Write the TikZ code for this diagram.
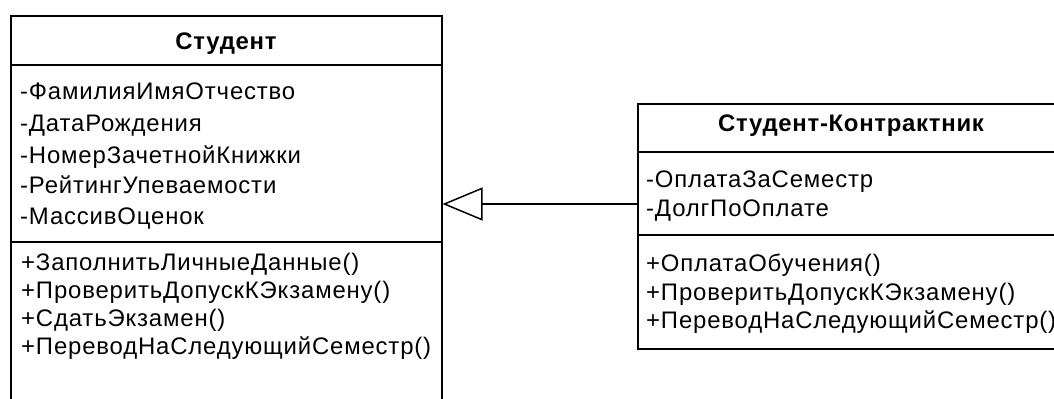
\documentclass[tikz,border=0pt]{standalone}
\usepackage{fontspec}
\setmainfont{Liberation Sans}
\newfontfamily\memberfont[LetterSpace=3.5]{Liberation Sans}
\newfontfamily\titlefont[LetterSpace=3]{Liberation Sans Bold}
\usetikzlibrary{arrows.meta}
\begin{document}
\begin{tikzpicture}[x=1bp,y=-1bp,
  classbox/.style={draw=black, line width=1.5bp, rectangle, inner sep=0pt, anchor=north west},
  title/.style={font=\fontsize{24}{28}\titlefont, inner sep=0pt, anchor=base},
  member/.style={font=\fontsize{24}{28}\memberfont, inner sep=0pt, anchor=base west},
  sep/.style={line width=1.5bp},
  inherit/.style={line width=1.5bp, -{Triangle[open, length=40bp, width=33bp, line width=1.5bp]}}
]
\clip (0,0) rectangle (1054,398);
% Student
\node[classbox, minimum width=431bp, minimum height=420bp] (student) at (10,15) {};
\draw[sep] (10,65) -- (441,65);
\draw[sep] (10,242) -- (441,242);
\node[title] (st) at (226,49) {Студент};
\node[member] (a1) at (20,99.5) {-ФамилияИмяОтчество};
\node[member] (a2) at (20,131) {-ДатаРождения};
\node[member] (a3) at (20,163) {-НомерЗачетнойКнижки};
\node[member] (a4) at (20,193.5) {-РейтингУпеваемости};
\node[member] (a5) at (20,224) {-МассивОценок};
\node[member] (o1) at (21,270) {+ЗаполнитьЛичныеДанные()};
\node[member] (o2) at (21,298.5) {+ПроверитьДопускКЭкзамену()};
\node[member] (o3) at (21,326) {+СдатьЭкзамен()};
\node[member] (o4) at (21,354) {+ПереводНаСледующийСеместр()};
% Contract student
\node[classbox, minimum width=430bp, minimum height=245bp] (contract) at (637,103) {};
\draw[sep] (637,152) -- (1067,152);
\draw[sep] (637,235) -- (1067,235);
\node[title] (ct) at (851,131) {Студент-Контрактник};
\node[member] (b1) at (646,187) {-ОплатаЗаСеместр};
\node[member] (b2) at (646,216.5) {-ДолгПоОплате};
\node[member] (p1) at (646,271) {+ОплатаОбучения()};
\node[member] (p2) at (646,300) {+ПроверитьДопускКЭкзамену()};
\node[member] (p3) at (646,328.5) {+ПереводНаСледующийСеместр()};
% inheritance
\coordinate (ay) at (0,204);
\draw[inherit] (contract.west |- ay) -- (student.east |- ay);
\end{tikzpicture}
\end{document}
